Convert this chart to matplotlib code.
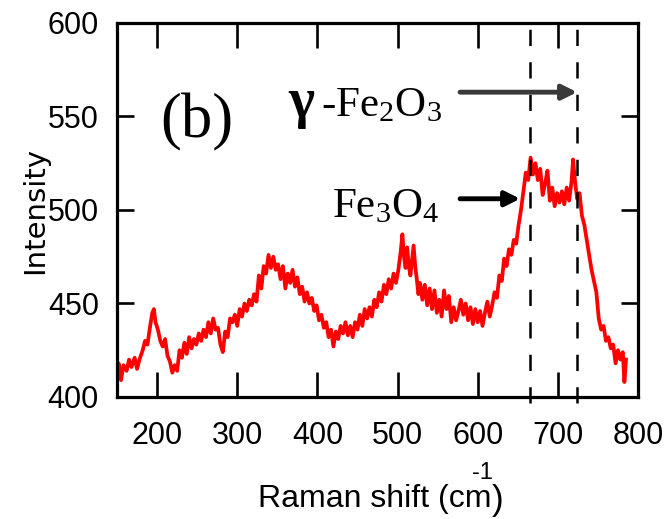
import matplotlib
matplotlib.use("Agg")
import matplotlib.pyplot as plt
import numpy as np

plt.rcParams["mathtext.fontset"] = "custom"
plt.rcParams["mathtext.rm"] = "Liberation Serif"
plt.rcParams["mathtext.it"] = "Liberation Serif:italic"

# Raman spectrum
raman_shift = [
    150, 152, 155, 158, 162, 165, 168, 172, 175, 178, 182, 185, 188, 191, 194, 196, 198,
    201, 204, 207, 210, 213, 216, 219, 222, 225, 228, 231, 234, 237, 240, 243, 246, 249,
    252, 255, 258, 261, 264, 267, 270, 273, 276, 279, 282, 285, 288, 291, 294, 297, 300,
    303, 306, 309, 312, 315, 318, 321, 324, 327, 330, 333, 336, 339, 342, 345, 348, 351,
    354, 357, 360, 363, 366, 369, 372, 375, 378, 381, 384, 387, 390, 393, 396, 399, 402,
    405, 408, 411, 414, 417, 420, 423, 426, 429, 432, 435, 438, 441, 444, 447, 450, 453,
    456, 459, 462, 465, 468, 471, 474, 477, 480, 483, 486, 489, 492, 495, 498, 501, 504,
    506, 508, 510, 512, 514, 516, 518, 520, 522, 524, 526, 528, 531, 534, 537, 540, 543,
    546, 549, 552, 555, 558, 561, 564, 567, 570, 573, 576, 579, 582, 585, 588, 591, 594,
    597, 600, 603, 606, 609, 612, 615, 618, 621, 624, 627, 630, 633, 636, 639, 642, 645,
    648, 651, 654, 657, 660, 663, 666, 669, 672, 675, 678, 681, 684, 687, 690, 693, 696,
    699, 702, 705, 708, 711, 714, 717, 719, 721, 724, 727, 730, 733, 736, 739, 742, 745,
    748, 751, 754, 757, 760, 763, 766, 769, 772, 775, 778, 781, 783, 785,
]
intensity = [
    410, 418, 409, 417, 414, 420, 416, 421, 415, 420, 425, 430, 428, 437, 445, 447, 440,
    436, 430, 427, 431, 422, 419, 413, 417, 414, 425, 421, 429, 423, 432, 426, 431, 428,
    434, 430, 436, 432, 440, 434, 442, 436, 437, 428, 424, 435, 432, 442, 440, 444, 438,
    447, 443, 450, 446, 452, 449, 455, 451, 465, 458, 470, 466, 476, 469, 475, 468, 471,
    463, 470, 458, 466, 461, 468, 459, 464, 455, 459, 451, 456, 450, 453, 446, 449, 441,
    444, 437, 440, 432, 436, 427, 435, 431, 438, 434, 440, 433, 438, 432, 440, 436, 444,
    438, 447, 442, 448, 443, 452, 448, 456, 451, 460, 455, 463, 458, 466, 461, 468, 478,
    487, 475, 469, 480, 470, 465, 473, 481, 470, 463, 455, 461, 452, 460, 449, 458, 447,
    457, 445, 452, 443, 457, 447, 454, 440, 448, 441, 446, 452, 444, 450, 441, 448, 439,
    447, 440, 446, 438, 445, 451, 443, 449, 456, 453, 465, 462, 474, 470, 479, 476, 484,
    482, 492, 500, 510, 520, 516, 528, 519, 525, 516, 522, 508, 514, 521, 505, 512, 502,
    509, 504, 510, 503, 512, 505, 515, 527, 517, 506, 509, 497, 492, 484, 476, 468, 462,
    456, 442, 436, 438, 430, 432, 426, 428, 418, 425, 420, 424, 408, 420,
]

peak_positions = [665, 724]
x_ticks = [200, 300, 400, 500, 600, 700, 800]
y_ticks = [400, 450, 500, 550, 600]

sans = ["Liberation Sans Narrow", "Liberation Sans", "DejaVu Sans"]
serif = ["Liberation Serif", "DejaVu Serif"]

fig = plt.figure(figsize=(6.66, 5.19), dpi=100)
ax = fig.add_axes([0.1757, 0.2351, 0.7823, 0.7206])

ax.plot(raman_shift, intensity, color="#ff0000", lw=2.7, zorder=2)

for xp in peak_positions:
    ax.axvline(xp, ymin=-0.017, ymax=1.0, color="black", lw=1.8,
               linestyle=(0, (6.5, 6.5)), clip_on=False, zorder=3)

ax.set_xlim(150, 800)
ax.set_ylim(400, 600)
ax.set_xticks(x_ticks)
ax.set_yticks(y_ticks)

for sp in ax.spines.values():
    sp.set_linewidth(2.3)

ax.tick_params(axis="x", direction="in", top=True, length=18, width=1.9, pad=17)
ax.tick_params(axis="y", direction="in", right=True, length=12, width=1.9, pad=13)
for lab in ax.get_xticklabels() + ax.get_yticklabels():
    lab.set_family(sans)
    lab.set_fontsize(22)

ax.set_ylabel("Intensity", family="DejaVu Sans", fontsize=21, va="center")
ax.yaxis.set_label_coords(-0.157, 0.5)

# x label is split like in the original figure
fig.text(258 / 666, 12 / 519, "Raman shift (cm", family=sans, fontsize=23,
         ha="left", va="baseline")
fig.text(482 / 666, 46 / 519, "-1", family=sans, fontsize=17,
         ha="center", va="center")
fig.text(498 / 666, 9 / 519, ")", family=sans, fontsize=25,
         ha="center", va="baseline")

# annotations
ax.text(250, 547, "(b)", family=serif, fontsize=45, ha="center", va="center")
ax.text(380, 557, "γ", family=serif, fontweight="bold", fontsize=40,
        ha="center", va="center")
ax.text(405, 550, "-Fe$_2$O$_3$", family=serif, fontsize=31,
        ha="left", va="baseline")
ax.text(418, 496, "Fe$_3$O$_4$", family=serif, fontsize=31,
        ha="left", va="baseline")

ax.annotate("", xy=(724, 563), xytext=(578, 563),
            arrowprops=dict(arrowstyle="-|>", color="#3a3a3a", lw=3.5,
                            mutation_scale=22, shrinkA=0, shrinkB=0))
ax.annotate("", xy=(653, 506), xytext=(578, 506),
            arrowprops=dict(arrowstyle="-|>", color="black", lw=3.5,
                            mutation_scale=22, shrinkA=0, shrinkB=0))

fig.savefig("out.png", dpi=100)
